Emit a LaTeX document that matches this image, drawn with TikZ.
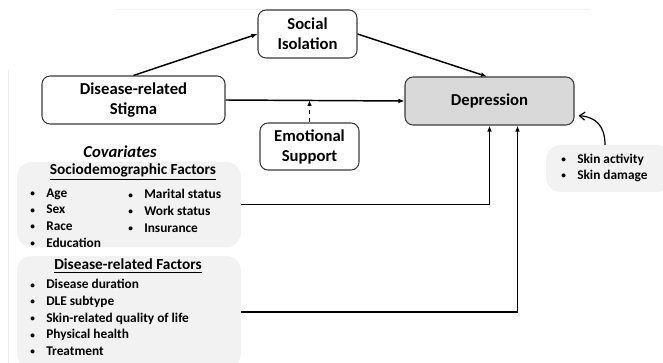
\documentclass[tikz,border=0pt]{standalone}
\usepackage{fontspec}
\setmainfont{Carlito}
\usetikzlibrary{arrows.meta,positioning}
\definecolor{deprgray}{HTML}{D9D9D9}
\definecolor{panelgray}{HTML}{F2F2F2}
\definecolor{rimgray}{HTML}{3A3A3A}
\tikzset{
	varbox/.style={draw=rimgray,line width=0.8pt,rounded corners=6pt,align=center,inner sep=0pt,font=\fontsize{12.5}{15}\selectfont\bfseries},
	panel/.style={fill=panelgray,rounded corners=11pt,inner sep=0pt},
	itemlist/.style={anchor=west,align=left,inner sep=0pt,font=\fontsize{10}{12.5}\selectfont\bfseries},
	path/.style={line width=1.1pt,-{Latex[length=4.5pt,width=3.5pt]}},
	moderator/.style={line width=0.9pt,dashed,-{Latex[length=4.5pt,width=3.5pt]}},
	skinlink/.style={line width=0.9pt,-{Straight Barb[length=4pt,width=6pt]}}
}
\newcommand{\itm}[1]{\makebox[12pt][l]{\raisebox{0.5pt}{\fontsize{7}{7}\selectfont\textbullet}}#1}

\begin{document}
\begin{tikzpicture}[x=0.75pt,y=-0.75pt]
	\useasboundingbox (0,0) rectangle (663,363);
	\draw[black!6] (8,70) -- (8,363);
	\draw[black!5] (115,9) -- (590,9);
	% main variables
	\node[varbox,minimum width=74.25pt,minimum height=36pt] (soc) at (307.5,34) {Social\\Isolation};
	\node[varbox,minimum width=137.25pt,minimum height=36pt] (stig) at (133.5,100) {Disease-related\\Stigma};
	\node[varbox,minimum width=74.25pt,minimum height=35.25pt] (emo) at (309.5,146.5) {Emotional\\Support};
	\node[varbox,fill=deprgray,minimum width=126.75pt,minimum height=36pt] (dep) at (489.5,101) {Depression};
	% covariates
	\node[font=\fontsize{12.5}{15}\selectfont\bfseries\itshape] (cov) at (120,152) {Covariates};
	\node[panel,minimum width=168pt,minimum height=63.75pt] (socio) at (129,204.5) {};
	\node[font=\fontsize{11.5}{14}\selectfont\bfseries] (sochead) at (133,172) {\underline{Sociodemographic Factors}};
	\node[itemlist] (sdleft) at (30,218) {\itm{Age}\\\itm{Sex}\\\itm{Race}\\\itm{Education}};
	\node[itemlist] (sdright) at (128,211) {\itm{Marital status}\\\itm{Work status}\\\itm{Insurance}};
	\node[panel,minimum width=168pt,minimum height=84pt] (dis) at (129,312) {};
	\node[font=\fontsize{11.5}{14}\selectfont\bfseries] (dishead) at (128,266) {\underline{Disease-related Factors}};
	\node[itemlist] (dislist) at (30,317.5) {\itm{Disease duration}\\\itm{DLE subtype}\\\itm{Skin-related quality of life}\\\itm{Physical health}\\\itm{Treatment}};
	\node[panel,minimum width=94.5pt,minimum height=35.25pt] (skin) at (609,168.5) {};
	\node[itemlist,font=\fontsize{10}{12}\selectfont\bfseries] (skinlist) at (561,168) {\itm{Skin activity}\\\itm{Skin damage}};
	% connectors
	\coordinate (skintop) at (605,145);
	\coordinate (dep2) at ([xshift=21pt]dep.south);
	\draw[path] (stig.north) -- (soc.west);
	\draw[path] (soc.east) -- ([xshift=-2pt]dep.north);
	\draw[path] (stig.east) -- (dep.west);
	\draw[moderator] (emo.north) -- (emo.north |- stig.east);
	\draw[path] (socio.east) -| (dep.south);
	\draw[path] (dis.east) -| (dep2);
	\draw[skinlink] (skintop) .. controls (605,126) and (596,117) .. ([xshift=3pt,yshift=-11pt]dep.east);
\end{tikzpicture}
\end{document}
